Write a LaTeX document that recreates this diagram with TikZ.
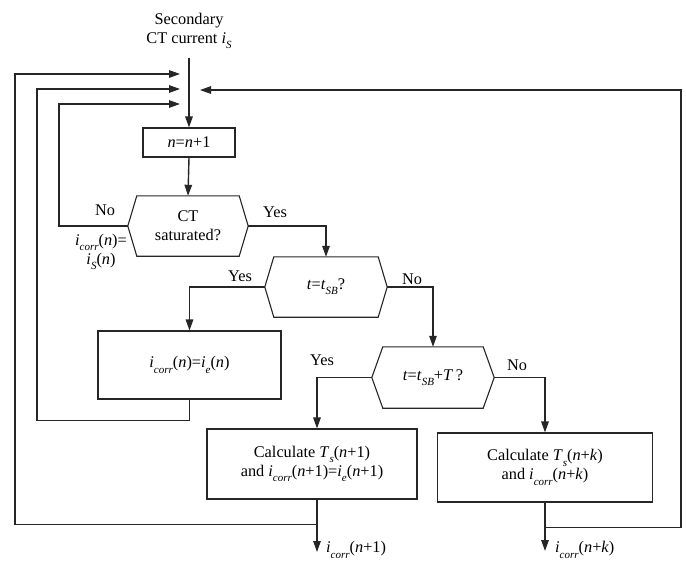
\documentclass[tikz,border=0pt]{standalone}
\usepackage{fontspec}
\setmainfont{Liberation Serif}
\usetikzlibrary{arrows.meta}
\newcommand\sbx[1]{\raisebox{-0.32em}{\fontsize{11}{11}\selectfont\itshape #1}}
\newcommand\vv[1]{\textit{#1}}
\newcommand\hexdraw[2]{\draw[boxline] (#1.west) -- ([xshift=#2]#1.north west) -- ([xshift=-#2]#1.north east) -- (#1.east) -- ([xshift=-#2]#1.south east) -- ([xshift=#2]#1.south west) -- cycle;}
\begin{document}
\begin{tikzpicture}[x=1pt,y=-1pt,
  every node/.style={font=\fontsize{16.3}{19}\selectfont, text=black},
  ln/.style={line width=1.4pt, draw=black!85},
  arr/.style={ln, -{Triangle[length=11pt,width=7.5pt]}},
  boxline/.style={draw=black!85, line width=1.1pt},
  procbox/.style={boxline, inner sep=0pt, align=center},
  hexnode/.style={inner sep=0pt, align=center},
  lbl/.style={inner sep=0pt}]
\useasboundingbox (0,0) rectangle (686,562);
\fill[white] (0,0) rectangle (686,562);

% source text
\node[align=center, inner sep=0pt] (src) at (189,31) {Secondary\\CT current \vv{i}\sbx{S}};
\coordinate (ins) at (189,58);

% junction arrow tips
\coordinate (jl1) at (180,74);
\coordinate (jl2) at (180,89);
\coordinate (jl3) at (180,104);
\coordinate (jr) at (200,90);

% blocks
\node[procbox, minimum width=92pt, minimum height=29pt] (b1) at (189,142.5) {\vv{n}=\vv{n}+1};
\node[hexnode, minimum width=120pt, minimum height=60pt] (d1) at (188,226) {CT\\saturated?};
\hexdraw{d1}{9pt}
\node[hexnode, minimum width=122pt, minimum height=60pt] (d2) at (326,287) {\vv{t}=\vv{t}\sbx{SB}?};
\hexdraw{d2}{9pt}
\node[procbox, minimum width=183pt, minimum height=68pt] (b2) at (189.5,365) {\vv{i}\sbx{corr}(\vv{n})=\vv{i}\sbx{e}(\vv{n})};
\node[hexnode, minimum width=122pt, minimum height=61pt] (d3) at (433,377.5) {\vv{t}=\vv{t}\sbx{SB}+\vv{T}\,?};
\hexdraw{d3}{11pt}
\node[procbox, minimum width=210pt, minimum height=70pt] (b3) at (312,464) {Calculate \vv{T}\sbx{s}(\vv{n}+1)\\and \vv{i}\sbx{corr}(\vv{n}+1)=\vv{i}\sbx{e}(\vv{n}+1)};
\node[procbox, minimum width=215pt, minimum height=69pt] (b4) at (545,467.5) {Calculate \vv{T}\sbx{s}(\vv{n}+\vv{k})\\and \vv{i}\sbx{corr}(\vv{n}+\vv{k})};

% outputs
\coordinate (o1) at (317,552);
\coordinate (o2) at (545,551);
\node[lbl, anchor=west] (lo1) at (326,550) {\vv{i}\sbx{corr}(\vv{n}+1)};
\node[lbl, anchor=west] (lo2) at (555,550) {\vv{i}\sbx{corr}(\vv{n}+\vv{k})};

% labels
\node[lbl] (no1) at (105,210) {No};
\node[lbl] (yes1) at (275,212) {Yes};
\node[lbl, align=center] (eq1) at (101,252) {\vv{i}\sbx{corr}(\vv{n})=\\\vv{i}\sbx{S}(\vv{n})};
\node[lbl] (yes2) at (240,276) {Yes};
\node[lbl] (no2) at (412,279) {No};
\node[lbl] (yes3) at (322,360) {Yes};
\node[lbl] (no3) at (517,365) {No};

% main flow
\draw[arr] (ins) -- (b1.north);
\draw[arr] (b1.south) -- (d1.north);
\draw[arr] (d1.east) -| (d2.north);
\draw[arr] (d2.west) -| (b2.north);
\draw[arr] (d2.east) -| (d3.north);
\draw[arr] (d3.west) -| ([xshift=5pt]b3.north);
\draw[arr] (d3.east) -| (b4.north);
\draw[arr] ([xshift=5pt]b3.south) -- (o1);
\draw[arr] (b4.south) -- (o2);

% feedback loops
\draw[arr] (d1.west) -- ++(-69,0) |- (jl3);
\draw[arr] (b2.south) -- ++(0,21) -| (37,89) -- (jl2);
\draw[arr] ([xshift=5pt,yshift=-25pt]b3.south) -| (15,74) -- (jl1);
\draw[arr] ([yshift=-25pt]b4.south) -| (681,90) -- (jr);
\end{tikzpicture}
\end{document}
